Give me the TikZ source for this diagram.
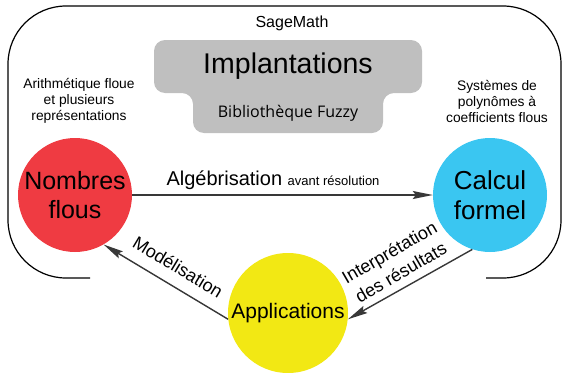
\documentclass[tikz,border=0pt]{standalone}
\usepackage{fontspec}
\setmainfont{Liberation Sans}
\newfontfamily\osans{Open Sans}
\usetikzlibrary{arrows.meta}
\definecolor{cred}{HTML}{EF3B42}
\definecolor{ccyan}{HTML}{3AC6F1}
\definecolor{cyel}{HTML}{F2E814}
\definecolor{cgray}{HTML}{BFBFBF}
\definecolor{cline}{HTML}{383838}
\tikzset{
  bubble/.style={circle, inner sep=0pt, align=center, font=\fontsize{25}{29}\selectfont},
  conn/.style={draw=cline, line width=1.4pt, -{Stealth[length=20pt,width=8pt,inset=3pt]}},
  side/.style={align=center, font=\fontsize{13.8}{16}\selectfont},
  lab/.style={font=\fontsize{18}{23}\selectfont, align=center},
}
\begin{document}
\begin{tikzpicture}[x=1pt,y=-1pt]
\useasboundingbox (0,0) rectangle (564,372);
% frame
\draw[line width=1.2pt, rounded corners=58pt] (90,278) -- (8,278) -- (8,6) -- (561,6) -- (561,278) -- (486,278);
% gray shape
\fill[cgray, rounded corners=11pt] (154,40) -- (422,40) -- (422,93) -- (383,93) -- (383,133) -- (193,133) -- (193,93) -- (154,93) -- cycle;
\node (sage) at (292,23) {\fontsize{16}{18}\selectfont SageMath};
\node (impl) at (288,66) {\fontsize{28.5}{32}\selectfont Implantations};
\node (fuzzy) at (288,113) {\osans\fontsize{16}{18}\selectfont Bibliothèque Fuzzy};
\node[side] (arith) at (79,101) {Arithmétique floue\\et plusieurs\\représentations};
\node[side] (syst) at (497,101) {Systèmes de\\polynômes à\\coefficients flous};
% circles
\node[bubble, fill=cred, minimum size=114pt] (nf) at (75,195) {Nombres\\flous};
\node[bubble, fill=ccyan, minimum size=114pt, font=\fontsize{26}{30}\selectfont] (cf) at (490,195) {Calcul\\formel};
\node[bubble, fill=cyel, minimum size=120pt, font=\fontsize{21}{24}\selectfont] (app) at (288,313) {Applications};
% connectors
\draw[conn] (nf) -- (cf);
\draw[conn] (app.186) -- (nf.-60);
\draw[conn] (cf.-108) -- (app.-6);
% labels
\node[anchor=base west] (alg) at (163,185) {\fontsize{20}{22}\selectfont Algébrisation \fontsize{13}{15}\selectfont avant résolution};
\node[lab, rotate=-31] (mod) at (178,267) {Modélisation};
\node[lab, rotate=30] (interp) at (395,262) {Interprétation\\des résultats};
\end{tikzpicture}
\end{document}
